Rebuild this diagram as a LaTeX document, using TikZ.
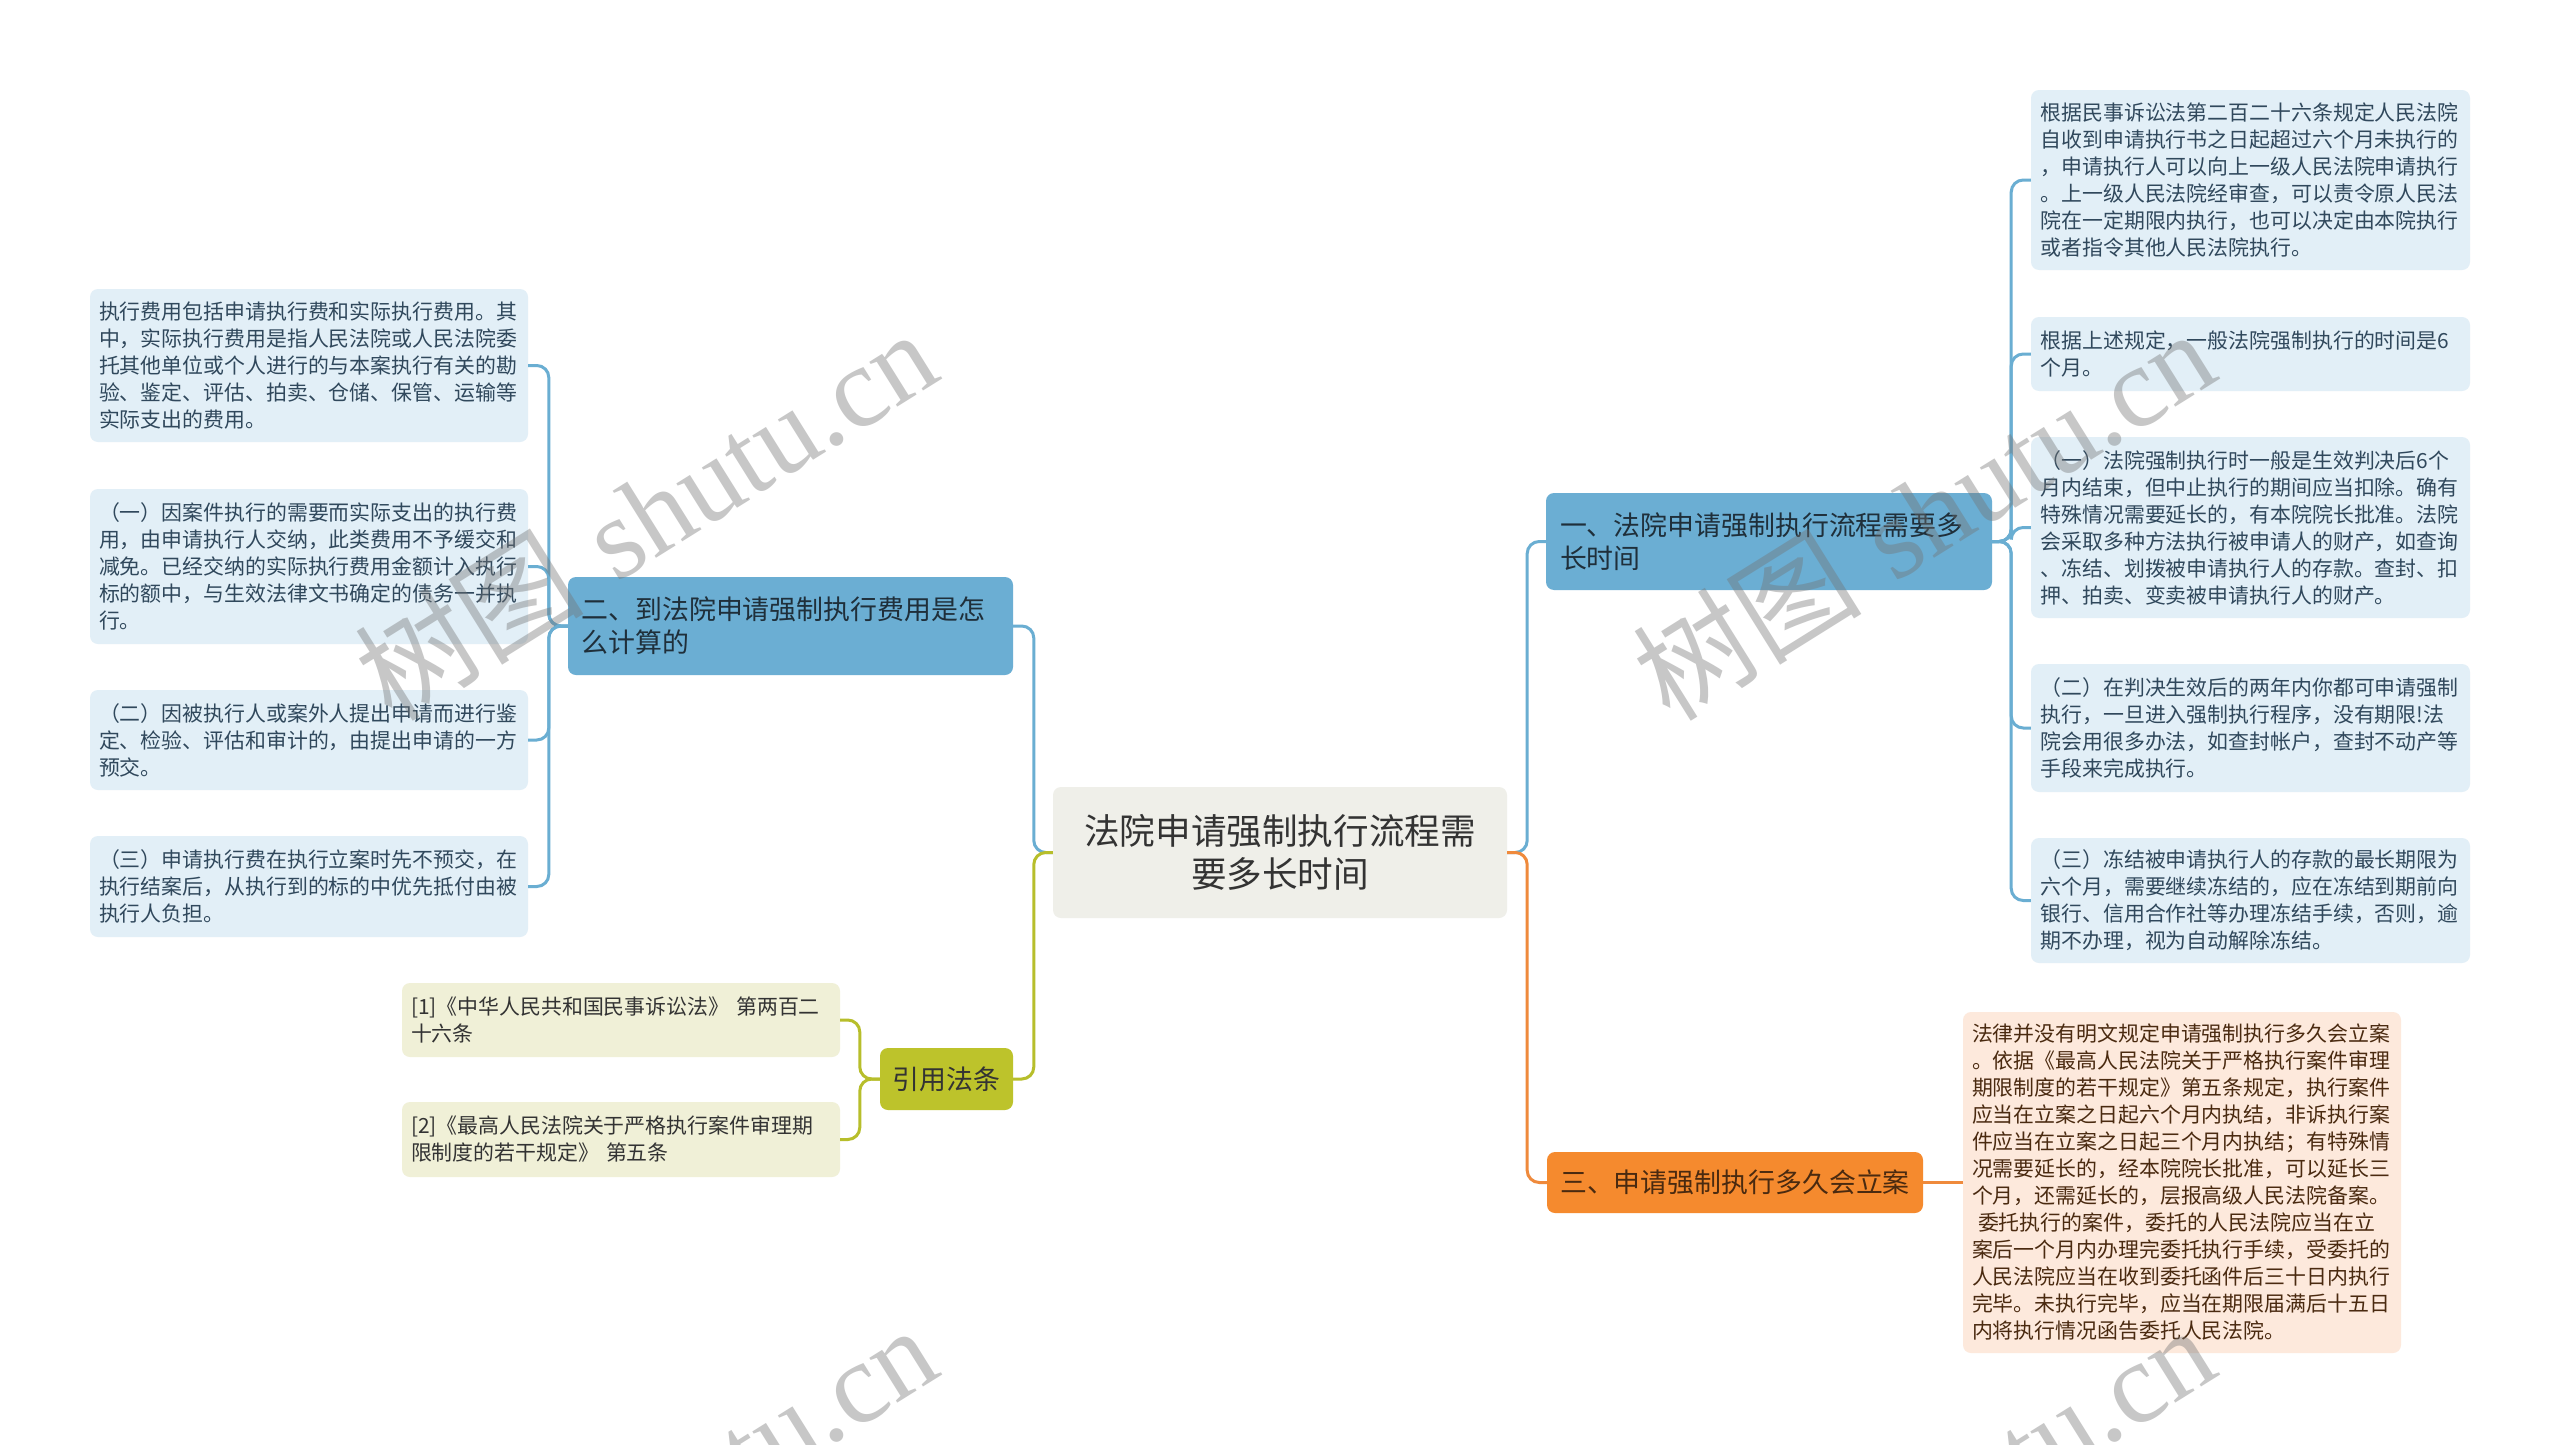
\documentclass[tikz,border=0pt]{standalone}
\usepackage{fontspec}
\newfontfamily\cjk{Noto Sans CJK SC}
\newfontfamily\wmserif{Liberation Serif}
\definecolor{mainblue}{HTML}{6BAED3}
\definecolor{leafblue}{HTML}{E2EFF7}
\definecolor{rootfill}{HTML}{EFEFE9}
\definecolor{mainorange}{HTML}{F58A2E}
\definecolor{leaforange}{HTML}{FDE9DC}
\definecolor{maingreen}{HTML}{BDC32B}
\definecolor{leafgreen}{HTML}{F0F0D7}
\definecolor{lineblue}{HTML}{6AAED2}
\definecolor{lineorange}{HTML}{EF8A3C}
\definecolor{linegreen}{HTML}{B7BE2B}
\definecolor{leaftext}{HTML}{30485C}
\definecolor{maintext}{HTML}{1F2F3A}
\definecolor{orangetext}{HTML}{4A2A10}
\definecolor{roottext}{HTML}{333333}
\newcommand\bx[7]{\node[#2, minimum width={#5-#3}, minimum height={#6-#4}] (#1) at ({(#3+#5)/2},{(#4+#6)/2}) {#7};}
\begin{document}
\begin{tikzpicture}[x=1pt,y=-1pt,
  box/.style={inner sep=0pt, rounded corners=8pt},
  leafb/.style={box, fill=leafblue, text=leaftext, text width=420pt, align=left, font={\cjk\fontsize{20.9}{27}\selectfont}},
  leafo/.style={box, fill=leaforange, text=orangetext, text width=420pt, align=left, font={\cjk\fontsize{20.9}{27}\selectfont}},
  leafg/.style={box, fill=leafgreen, text=roottext, text width=420pt, align=left, font={\cjk\fontsize{20.9}{27}\selectfont}},
  mainb/.style={box, fill=mainblue, text=maintext, text width=418pt, align=left, font={\cjk\fontsize{26.9}{33}\selectfont}},
  maino/.style={box, fill=mainorange, text=orangetext, align=center, font={\cjk\fontsize{26.9}{33}\selectfont}},
  maing/.style={box, fill=maingreen, text=roottext, align=center, font={\cjk\fontsize{26.9}{33}\selectfont}},
  rootbox/.style={box, fill=rootfill, text=roottext, align=center, font={\cjk\fontsize{35.6}{43}\selectfont}},
  conn/.style={line width=3pt, rounded corners=12pt},
  cb/.style={conn, draw=lineblue},
  co/.style={conn, draw=lineorange},
  cg/.style={conn, draw=linegreen},
  wm/.style={text=black!55, opacity=0.4, inner sep=0pt}
]
\useasboundingbox (0,0) rectangle (2560,1445);
\fill[white] (0,0) rectangle (2560,1445);

% root
\bx{root}{rootbox}{1053}{787}{1507}{918}{法院申请强制执行流程需\\要多长时间}

% main branches
\bx{n1}{mainb}{1546}{493}{1992}{590}{一、法院申请强制执行流程需要多\\长时间}
\bx{n2}{mainb}{568}{577}{1013}{675}{二、到法院申请强制执行费用是怎\\么计算的}
\bx{n3}{maino}{1547}{1152}{1923}{1213}{三、申请强制执行多久会立案}
\bx{n4}{maing}{880}{1048}{1013}{1110}{引用法条}

% right leaves
\bx{r1}{leafb}{2031}{90}{2470}{270}{根据民事诉讼法第二百二十六条规定人民法院\\自收到申请执行书之日起超过六个月未执行的\\，申请执行人可以向上一级人民法院申请执行\\。上一级人民法院经审查，可以责令原人民法\\院在一定期限内执行，也可以决定由本院执行\\或者指令其他人民法院执行。}
\bx{r2}{leafb}{2031}{317}{2470}{391}{根据上述规定，一般法院强制执行的时间是6\\个月。}
\bx{r3}{leafb}{2031}{437}{2470}{618}{（一）法院强制执行时一般是生效判决后6个\\月内结束，但中止执行的期间应当扣除。确有\\特殊情况需要延长的，有本院院长批准。法院\\会采取多种方法执行被申请人的财产，如查询\\、冻结、划拨被申请执行人的存款。查封、扣\\押、拍卖、变卖被申请执行人的财产。}
\bx{r4}{leafb}{2031}{664}{2470}{792}{（二）在判决生效后的两年内你都可申请强制\\执行，一旦进入强制执行程序，没有期限!法\\院会用很多办法，如查封帐户，查封不动产等\\手段来完成执行。}
\bx{r5}{leafb}{2031}{838}{2470}{963}{（三）冻结被申请执行人的存款的最长期限为\\六个月，需要继续冻结的，应在冻结到期前向\\银行、信用合作社等办理冻结手续，否则，逾\\期不办理，视为自动解除冻结。}

% orange leaf
\bx{o1}{leafo}{1963}{1012}{2401}{1353}{法律并没有明文规定申请强制执行多久会立案\\。依据《最高人民法院关于严格执行案件审理\\期限制度的若干规定》第五条规定，执行案件\\应当在立案之日起六个月内执结，非诉执行案\\件应当在立案之日起三个月内执结；有特殊情\\况需要延长的，经本院院长批准，可以延长三\\个月，还需延长的，层报高级人民法院备案。\\\hspace*{6pt}委托执行的案件，委托的人民法院应当在立\\案后一个月内办理完委托执行手续，受委托的\\人民法院应当在收到委托函件后三十日内执行\\完毕。未执行完毕，应当在期限届满后十五日\\内将执行情况函告委托人民法院。}

% left leaves
\bx{l1}{leafb}{90}{289}{528}{442}{执行费用包括申请执行费和实际执行费用。其\\中，实际执行费用是指人民法院或人民法院委\\托其他单位或个人进行的与本案执行有关的勘\\验、鉴定、评估、拍卖、仓储、保管、运输等\\实际支出的费用。}
\bx{l2}{leafb}{90}{489}{528}{644}{（一）因案件执行的需要而实际支出的执行费\\用，由申请执行人交纳，此类费用不予缓交和\\减免。已经交纳的实际执行费用金额计入执行\\标的额中，与生效法律文书确定的债务一并执\\行。}
\bx{l3}{leafb}{90}{690}{528}{790}{（二）因被执行人或案外人提出申请而进行鉴\\定、检验、评估和审计的，由提出申请的一方\\预交。}
\bx{l4}{leafb}{90}{836}{528}{937}{（三）申请执行费在执行立案时先不预交，在\\执行结案后，从执行到的标的中优先抵付由被\\执行人负担。}

% citation leaves
\bx{c1}{leafg}{402}{983}{840}{1057}{[1]《中华人民共和国民事诉讼法》 第两百二\\十六条}
\bx{c2}{leafg}{402}{1102}{840}{1177}{[2]《最高人民法院关于严格执行案件审理期\\限制度的若干规定》 第五条}

% connectors
\draw[cb] (root.east) -- ++(20,0) |- (n1.west);
\draw[co] (root.east) -- ++(20,0) |- (n3.west);
\draw[cb] (root.west) -- ++(-19,0) |- (n2.east);
\draw[cg] (root.west) -- ++(-19,0) |- (n4.east);
\foreach \r in {r1,r2,r3,r4,r5} \draw[cb] (n1.east) -- ++(19,0) |- (\r.west);
\foreach \l in {l1,l2,l3,l4} \draw[cb] (n2.west) -- ++(-19,0) |- (\l.east);
\foreach \c in {c1,c2} \draw[cg] (n4.west) -- ++(-20,0) |- (\c.east);
\draw[co] (n3.east) -- (o1.west);

% watermarks
\begin{scope}
\clip (0,0) rectangle (2560,1445);
\node[wm, rotate=32, font=\fontsize{115}{115}\selectfont] (w1) at (645,514) {{\cjk 树图} {\wmserif shutu.cn}};
\node[wm, rotate=32, font=\fontsize{115}{115}\selectfont] (w2) at (1923,514) {{\cjk 树图} {\wmserif shutu.cn}};
\node[wm, rotate=32, font=\fontsize{115}{115}\selectfont] (w3) at (645,1510) {{\cjk 树图} {\wmserif shutu.cn}};
\node[wm, rotate=32, font=\fontsize{115}{115}\selectfont] (w4) at (1923,1510) {{\cjk 树图} {\wmserif shutu.cn}};
\end{scope}
\end{tikzpicture}
\end{document}
